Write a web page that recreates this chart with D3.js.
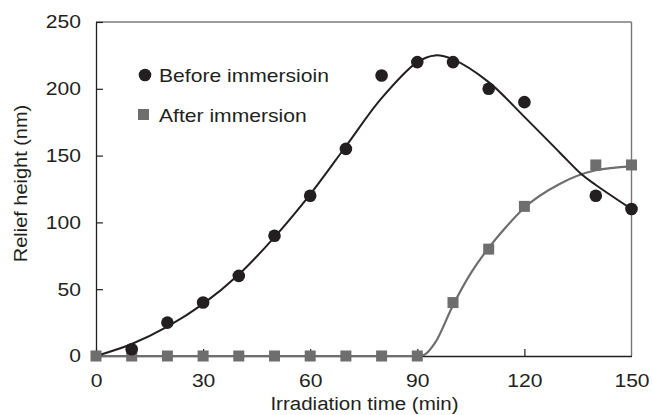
<!DOCTYPE html>
<html>
<head>
<meta charset="utf-8">
<script src="https://cdn.jsdelivr.net/npm/d3@7"></script>
<style>
  body { margin: 0; background: #fff; }
  text { font-family: "Liberation Sans", Arial, sans-serif; fill: #231f20; }
</style>
</head>
<body>
<svg id="chart"></svg>
<script>
// measured points
const timeMin = [0, 10, 20, 30, 40, 50, 60, 70, 80, 90, 100, 110, 120, 140, 150];
const beforeHeight = [0, 5, 25, 40, 60, 90, 120, 155, 210, 220, 220, 200, 190, 120, 110];
const afterTime = [0, 10, 20, 30, 40, 50, 60, 70, 80, 90, 100, 110, 120, 140, 150];
const afterHeight = [0, 0, 0, 0, 0, 0, 0, 0, 0, 0, 40, 80, 112, 143, 143];

// fitted curves
const beforeFitX = [0, 10, 20, 30, 40, 50, 60, 70, 80, 90, 95, 100, 110, 120, 130, 136, 140, 150];
const beforeFitY = [0, 9, 22, 39, 61, 89, 121, 157, 193, 220, 225, 222, 205, 179, 152, 136, 128, 110];
const afterFitX = [0, 90, 92, 95, 100, 105, 110, 115, 120, 130, 140, 150];
const afterFitY = [0, 0, 1, 10, 38, 62, 81, 97, 111, 129, 139, 142];

const xTicks = [0, 30, 60, 90, 120, 150];
const yTicks = [0, 50, 100, 150, 200, 250];

const width = 652, height = 415;
const margin = {top: 22, right: 20, bottom: 59, left: 96};
const blackC = "#231f20", greyC = "#6e6e6e";
const stretch = 1.14; // the original lettering is a bit wider than Arial

const svg = d3.select("#chart")
    .attr("width", width)
    .attr("height", height)
    .attr("viewBox", [0, 0, width, height]);

// widen a text selection horizontally along its own baseline
function widen(sel) {
    sel.each(function () {
        const w = this.getComputedTextLength();
        d3.select(this)
            .attr("textLength", w * stretch)
            .attr("lengthAdjust", "spacingAndGlyphs");
    });
}

const x = d3.scaleLinear().domain([0, 150]).range([margin.left, width - margin.right - 0.5]);
const y = d3.scaleLinear().domain([0, 250]).range([height - margin.bottom, margin.top]);

// frame: top and right
svg.append("line")
    .attr("x1", x(0)).attr("x2", x(150))
    .attr("y1", y(250)).attr("y2", y(250))
    .attr("stroke", "#3a3a3a").attr("stroke-width", 1.2);
svg.append("line")
    .attr("x1", x(150)).attr("x2", x(150))
    .attr("y1", y(250)).attr("y2", y(0))
    .attr("stroke", "#777").attr("stroke-width", 1.4);

// axes with inward ticks
const xAxis = svg.append("g")
    .attr("transform", `translate(0,${y(0)})`)
    .call(d3.axisBottom(x).tickValues(xTicks).tickSizeInner(-7).tickSizeOuter(0).tickPadding(18));
const yAxis = svg.append("g")
    .attr("transform", `translate(${x(0)},0)`)
    .call(d3.axisLeft(y).tickValues(yTicks).tickSizeInner(-7).tickSizeOuter(0).tickPadding(15));

[xAxis, yAxis].forEach(a => {
    a.select(".domain").attr("stroke", blackC).attr("stroke-width", 1.3);
    a.selectAll(".tick line").attr("stroke", blackC).attr("stroke-width", 1.2);
    a.selectAll(".tick text")
        .attr("font-size", "18.5px")
        .attr("font-family", "Liberation Sans, Arial, sans-serif")
        .attr("fill", blackC)
        .call(widen);
});
xAxis.selectAll(".tick text").attr("dy", "0.71em");
xAxis.selectAll(".tick").filter(d => d === 150).select("line").remove();

// axis titles
svg.append("text")
    .attr("x", 364.5)
    .attr("y", 409.5)
    .attr("text-anchor", "middle")
    .attr("font-size", "18px")
    .text("Irradiation time (min)")
    .call(widen);
svg.append("text")
    .attr("transform", `translate(26.5,183.5) rotate(-90)`)
    .attr("text-anchor", "middle")
    .attr("font-size", "17.5px")
    .text("Relief height (nm)")
    .call(widen);

// fitted curves
const line = d3.line().x(d => x(d[0])).y(d => y(d[1]));
svg.append("path")
    .datum(d3.zip(afterFitX, afterFitY))
    .attr("fill", "none")
    .attr("stroke", greyC)
    .attr("stroke-width", 2.2)
    .attr("d", line.curve(d3.curveMonotoneX));
svg.append("path")
    .datum(d3.zip(beforeFitX, beforeFitY))
    .attr("fill", "none")
    .attr("stroke", blackC)
    .attr("stroke-width", 2)
    .attr("d", line.curve(d3.curveCatmullRom));

// markers
const sq = 11;
svg.append("g").selectAll("rect")
    .data(d3.zip(afterTime, afterHeight))
    .join("rect")
    .attr("x", d => x(d[0]) - sq / 2)
    .attr("y", d => y(d[1]) - sq / 2)
    .attr("width", sq).attr("height", sq)
    .attr("fill", greyC);
svg.append("g").selectAll("circle")
    .data(d3.zip(timeMin, beforeHeight).filter(d => d[0] > 0))
    .join("circle")
    .attr("cx", d => x(d[0]))
    .attr("cy", d => y(d[1]))
    .attr("r", 6.3)
    .attr("fill", blackC);

// legend
svg.append("circle").attr("cx", 145).attr("cy", 75).attr("r", 6.3).attr("fill", blackC);
svg.append("text").attr("x", 159).attr("y", 81.5).attr("font-size", "18.5px")
    .text("Before immersioin").call(widen);
svg.append("rect").attr("x", 138).attr("y", 109).attr("width", sq).attr("height", sq).attr("fill", greyC);
svg.append("text").attr("x", 159).attr("y", 121.5).attr("font-size", "18.5px")
    .text("After immersion").call(widen);
</script>
</body>
</html>
